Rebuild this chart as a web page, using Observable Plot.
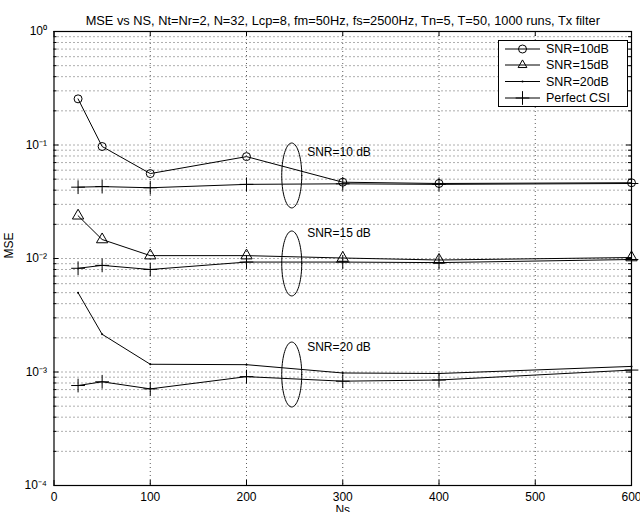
<!DOCTYPE html>
<html><head><meta charset="utf-8">
<script src="https://cdn.jsdelivr.net/npm/d3@7"></script>
<script src="https://cdn.jsdelivr.net/npm/@observablehq/plot@0.6"></script>
<style>
body{margin:0;background:#fff;}
#chart{position:relative;width:640px;height:512px;overflow:hidden;}
#legend{position:absolute;left:0;top:0;pointer-events:none;}
</style></head><body><div id="chart"></div>
<script>
const titleText = "MSE vs NS, Nt=Nr=2, N=32, Lcp=8, fm=50Hz, fs=2500Hz, Tn=5, T=50, 1000 runs, Tx filter";
const xLabel = "Ns";
const yLabel = "MSE";
const ns = [25, 50, 100, 200, 300, 400, 600];
const snr10 = [0.255, 0.097, 0.056, 0.079, 0.047, 0.0458, 0.0465];
const csi10 = [0.0425, 0.043, 0.042, 0.045, 0.0455, 0.045, 0.0458];
const snr15 = [0.0238, 0.0147, 0.0106, 0.0106, 0.0101, 0.0097, 0.0102];
const csi15 = [0.0082, 0.0087, 0.008, 0.0093, 0.0093, 0.0092, 0.0098];
const snr20 = [0.005, 0.00215, 0.00117, 0.00116, 0.00098, 0.00097, 0.00112];
const csi20 = [0.00076, 0.00082, 0.00071, 0.00091, 0.00083, 0.00085, 0.00104];
const legendLabels = ["SNR=10dB", "SNR=15dB", "SNR=20dB", "Perfect CSI"];
const legendSymbols = ["circle", "triangle", "dot", "plus"];
const xTicks = [0, 100, 200, 300, 400, 500, 600];
const yMajor = [1e-4, 1e-3, 1e-2, 1e-1, 1];
const yTickLabels = ["10\u207B\u2074", "10\u207B\u00B3", "10\u207B\u00B2", "10\u207B\u00B9", "10\u2070"];
const annText = ["SNR=10 dB", "SNR=15 dB", "SNR=20 dB"];
const annX = [263, 263, 263];
const annY = [0.0864, 0.0166, 0.00166];
const ellX = [247, 247, 247];
const ellY = [0.0539, 0.00904, 0.00095];
const ellRx = 10.4;      // half-width, data units
const ellRyDec = 0.286;  // half-height, decades

const W = 640, H = 512;
const mT = 31, mB = 27, mL = 53.5, mR = 9;
const plotW = W - mL - mR, plotH = H - mT - mB;
const font = "'Liberation Sans', Arial, Helvetica, sans-serif";

const yMinor = [];
for (let k = -4; k < 0; k++) for (let m = 2; m <= 9; m++) yMinor.push(m * Math.pow(10, k));
const yGrid = yMinor.concat(yMajor.slice(1, -1));
const xGrid = xTicks.slice(1, -1);

const series = [
  {vals: snr10, sym: "circle"}, {vals: csi10, sym: "plus"},
  {vals: snr15, sym: "triangle"}, {vals: csi15, sym: "plus"},
  {vals: snr20, sym: "dot"}, {vals: csi20, sym: "plus"}
];
const rows = [];
series.forEach((s, i) => s.vals.forEach((v, j) => rows.push({ns: ns[j], mse: v, s: i, sym: s.sym})));

const ellPts = [];
ellX.forEach((cx, i) => {
  for (let t = 0; t <= 72; t++) {
    const a = t / 72 * 2 * Math.PI;
    ellPts.push({e: i, x: cx + ellRx * Math.cos(a), y: ellY[i] * Math.pow(10, ellRyDec * Math.sin(a))});
  }
});

const dash = "1,3";
const chart = Plot.plot({
  width: W, height: H,
  marginTop: mT, marginBottom: mB, marginLeft: mL, marginRight: mR,
  style: {fontFamily: font, fontSize: "12px", color: "black", background: "white", overflow: "visible"},
  x: {domain: [0, 600], label: null},
  y: {type: "log", domain: [1e-4, 1], label: null},
  marks: [
    Plot.ruleX(xGrid, {x: d => d, stroke: "#333", strokeWidth: 0.8, strokeDasharray: dash}),
    Plot.ruleY(yGrid, {y: d => d, stroke: "#333", strokeWidth: 0.8, strokeDasharray: dash}),
    // inward ticks
    Plot.tickY(yMajor, {y: d => d, insetRight: plotW - 5, stroke: "black"}),
    Plot.tickY(yMajor, {y: d => d, insetLeft: plotW - 5, stroke: "black"}),
    Plot.tickY(yMinor, {y: d => d, insetRight: plotW - 3, stroke: "black"}),
    Plot.tickY(yMinor, {y: d => d, insetLeft: plotW - 3, stroke: "black"}),
    Plot.tickX(xTicks, {x: d => d, insetTop: plotH - 5, stroke: "black"}),
    Plot.tickX(xTicks, {x: d => d, insetBottom: plotH - 5, stroke: "black"}),
    Plot.axisX(xTicks, {tickSize: 0, tickPadding: 7, fontSize: 12}),
    Plot.axisY(yMajor, {tickSize: 0, tickPadding: 7, fontSize: 12, tickFormat: d => yTickLabels[yMajor.indexOf(d)]}),
    Plot.line(rows, {x: "ns", y: "mse", z: "s", stroke: "black", strokeWidth: 1}),
    Plot.dot(rows.filter(d => d.sym === "circle"), {x: "ns", y: "mse", r: 4, symbol: "circle", stroke: "black", fill: "none", strokeWidth: 1}),
    Plot.dot(rows.filter(d => d.sym === "triangle"), {x: "ns", y: "mse", r: 4.2, symbol: "triangle", stroke: "black", fill: "none", strokeWidth: 1}),
    Plot.dot(rows.filter(d => d.sym === "plus"), {x: "ns", y: "mse", r: 4.5, symbol: "plus", stroke: "black", fill: "none", strokeWidth: 1}),
    Plot.dot(rows.filter(d => d.sym === "dot"), {x: "ns", y: "mse", r: 1, fill: "black"}),
    Plot.line(ellPts, {x: "x", y: "y", z: "e", stroke: "black", strokeWidth: 1, curve: "linear-closed"}),
    Plot.text(annText, {x: (d, i) => annX[i], y: (d, i) => annY[i], text: d => d, textAnchor: "start", fontSize: 12, fill: "black"}),
    Plot.frame({stroke: "black", strokeWidth: 1.2}),
    Plot.text([titleText], {frameAnchor: "top", dy: -16, text: d => d, fontSize: 12.8, fill: "black"}),
    Plot.text([xLabel], {frameAnchor: "bottom", lineAnchor: "top", dy: 20, text: d => d, fontSize: 12, fill: "black"}),
    Plot.text([yLabel], {frameAnchor: "left", dx: -45, rotate: -90, text: d => d, fontSize: 12, fill: "black"})
  ]
});
const host = document.getElementById("chart");
host.appendChild(chart);

// legend overlay
const lg = d3.select(host).append("svg").attr("id", "legend").attr("width", W).attr("height", H);
const bx = 498.5, by = 40.5, bw = 129, bh = 66;
lg.append("rect").attr("x", bx).attr("y", by).attr("width", bw).attr("height", bh)
  .attr("fill", "white").attr("stroke", "black").attr("stroke-width", 1);
const ys = [49, 65, 81.5, 98];
const symMap = {circle: d3.symbolCircle, triangle: d3.symbolTriangle2, plus: d3.symbolPlus};
legendLabels.forEach((lab, i) => {
  const y = ys[i];
  lg.append("line").attr("x1", 505).attr("x2", 540).attr("y1", y).attr("y2", y).attr("stroke", "black");
  const s = legendSymbols[i];
  if (s === "dot") {
    lg.append("circle").attr("cx", 522.5).attr("cy", y).attr("r", 1).attr("fill", "black");
  } else {
    const r = s === "circle" ? 4 : s === "triangle" ? 4.2 : 4.5;
    lg.append("path").attr("transform", `translate(522.5,${y})`)
      .attr("d", d3.symbol(symMap[s], Math.PI * r * r)())
      .attr("fill", "none").attr("stroke", "black");
  }
  lg.append("text").attr("x", 546).attr("y", y).attr("dy", "0.35em")
    .attr("font-family", font).attr("font-size", 12.5).attr("fill", "black").text(lab);
});
</script></body></html>
